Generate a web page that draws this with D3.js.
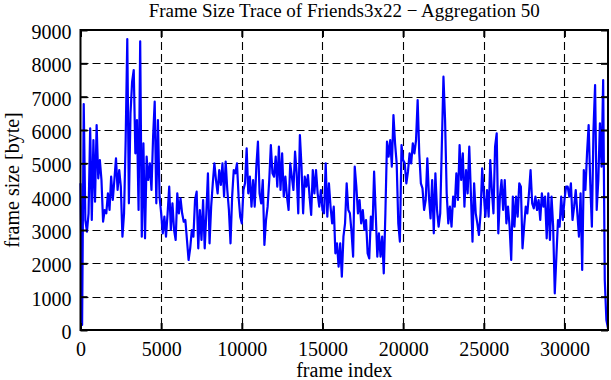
<!DOCTYPE html>
<html><head><meta charset="utf-8">
<script src="https://cdn.jsdelivr.net/npm/d3@7"></script>
<style>
body{margin:0;background:#fff}
text{font-family:"Liberation Serif","Times New Roman",serif;font-size:20px;fill:#000}
</style>
</head><body>
<svg id="chart" width="611" height="380"></svg>
<script>
const titleText = "Frame Size Trace of Friends3x22 \u2212 Aggregation 50";
const xLabel = "frame index";
const yLabel = "frame size [byte]";
const xTicks = [0, 5000, 10000, 15000, 20000, 25000, 30000];
const yTicks = [0, 1000, 2000, 3000, 4000, 5000, 6000, 7000, 8000, 9000];
const xMax = 32700;
const yMax = 9000;
const frameStep = 100; // frames between plotted samples
const frameSize = [
4400,150,6780,3300,2950,3500,6050,3300,5700,3850,
6150,4550,5100,4500,3250,3600,3500,4100,3600,4600,
3900,4500,5150,4200,4800,4300,2800,3500,5700,8730,
3800,6500,7450,7800,5300,6300,3600,8660,2800,5600,
2750,5200,4500,5000,4200,5800,6850,3800,6300,4000,
3500,2900,3400,2800,3500,
4300,3000,3800,3000,2700,4100,3500,3950,3500,3250,
3300,2700,2100,2450,3000,2800,3900,4150,2450,3600,
2700,3900,2450,3500,4700,2600,3700,4400,5000,4500,
4100,4800,4350,5000,4000,5050,4200,3600,2600,4000,
4800,4700,5000,4000,3400,3200,4200,4400,5450,4100,
4600,3700,4500,
3700,4900,5650,4100,3800,4500,2550,3300,3700,4500,
5550,4700,4600,5200,4300,5500,4200,5300,4000,4600,
4000,3600,5000,4600,4200,5350,4700,3500,5850,4900,
3500,4600,4300,4650,4000,3450,4800,4100,4800,4100,
3700,4200,3600,3500,5000,3400,4400,3700,3200,3700,
2300,2600,1900,2600,1600,2800,3200,
4400,3600,3500,2950,2200,4900,4300,3500,3900,3200,
3600,3000,3300,2300,2150,3400,3000,4750,3500,2200,
2900,2200,2800,1700,3500,5650,5200,5700,4900,6450,
5600,5000,3200,2650,5550,5100,5000,4400,4750,5300,
5000,5600,5300,5700,6900,5300,4400,4250,3600,3900,
5150,4000,3350,4500,
2900,4700,3600,3100,3500,5550,7600,6300,4100,3200,
3700,3100,4000,3700,4700,3900,5550,4500,5300,3700,
4800,4100,5500,4100,2650,4400,3500,3200,2850,3500,
4850,4100,3400,4200,3400,5100,4200,3500,5500,5900,
2900,4000,4500,3600,4500,3200,3700,3100,2100,4000,
3100,4000,3400,4400,
4300,2450,3100,3700,3500,4100,4800,3800,3650,4000,
3600,3900,3300,4100,3700,4000,2750,4100,2700,4000,
3100,1100,2200,3300,3100,4000,3300,3900,4300,4300,
4000,4400,3300,3700,4200,3500,2800,4100,1800,4800,
4200,5300,6150,4400,3100,6000,7350,3600,4500,6200,
4900,7500,1500,300,50
];

const svg = d3.select("#chart");
svg.append("rect").attr("width",611).attr("height",380).attr("fill","#fff");
const L = 80.5, R = 608, T = 30, B = 330;
const x = d3.scaleLinear().domain([0, xMax]).range([L, R]);
const y = d3.scaleLinear().domain([0, yMax]).range([B, T]);

// grid
const grid = svg.append("g").attr("stroke","#000").attr("stroke-width",1.1).attr("stroke-dasharray","8,4").attr("fill","none");
xTicks.filter(t => t > 0 && t < xMax).forEach(t => {
  grid.append("line").attr("x1", Math.round(x(t))+0.5).attr("x2", Math.round(x(t))+0.5).attr("y1", T).attr("y2", B);
});
yTicks.filter(t => t > 0 && t < yMax).forEach(t => {
  grid.append("line").attr("y1", Math.round(y(t))+0.5).attr("y2", Math.round(y(t))+0.5).attr("x1", L).attr("x2", R);
});

// data line
const pts = frameSize.map((v, i) => [i * frameStep, v]);
svg.append("path").datum(pts)
  .attr("fill","none").attr("stroke","#0000ff").attr("stroke-width",2.2)
  .attr("stroke-linejoin","round")
  .attr("d", d3.line().x(d => x(d[0])).y(d => y(d[1])));

// axes (inward ticks)
function styleAxis(g){
  g.select(".domain").remove();
  g.selectAll(".tick line").attr("stroke","#000").attr("stroke-width",2);
  g.selectAll("text").attr("font-size",null).attr("font-family",null).attr("fill","#000");
}
const gx = svg.append("g").attr("transform",`translate(0,${B})`)
  .call(d3.axisBottom(x).tickValues(xTicks).tickSize(-7).tickSizeOuter(0).tickPadding(12).tickFormat(d3.format("d")));
styleAxis(gx);
gx.selectAll("text").attr("dy","0.71em");
const gy = svg.append("g").attr("transform",`translate(${L},0)`)
  .call(d3.axisLeft(y).tickValues(yTicks).tickSize(-7).tickSizeOuter(0).tickPadding(9).tickFormat(d3.format("d")));
styleAxis(gy);
gy.selectAll("text").attr("dy","0.42em");
const gt = svg.append("g").attr("transform",`translate(0,${T})`)
  .call(d3.axisTop(x).tickValues(xTicks).tickSize(-7).tickSizeOuter(0).tickFormat(""));
styleAxis(gt);
const gr = svg.append("g").attr("transform",`translate(${R},0)`)
  .call(d3.axisRight(y).tickValues(yTicks).tickSize(-7).tickSizeOuter(0).tickFormat(""));
styleAxis(gr);

// border
svg.append("rect").attr("x",L).attr("y",T).attr("width",R-L).attr("height",B-T)
  .attr("fill","none").attr("stroke","#000").attr("stroke-width",2);

// labels
svg.append("text").attr("x",(L+R)/2).attr("y",17).attr("text-anchor","middle").style("font-size","19px").text(titleText);
svg.append("text").attr("x",(L+R)/2).attr("y",377).attr("text-anchor","middle").text(xLabel);
svg.append("text").attr("transform",`translate(19,${(T+B)/2}) rotate(-90)`).attr("text-anchor","middle").text(yLabel);
</script>
</body></html>
